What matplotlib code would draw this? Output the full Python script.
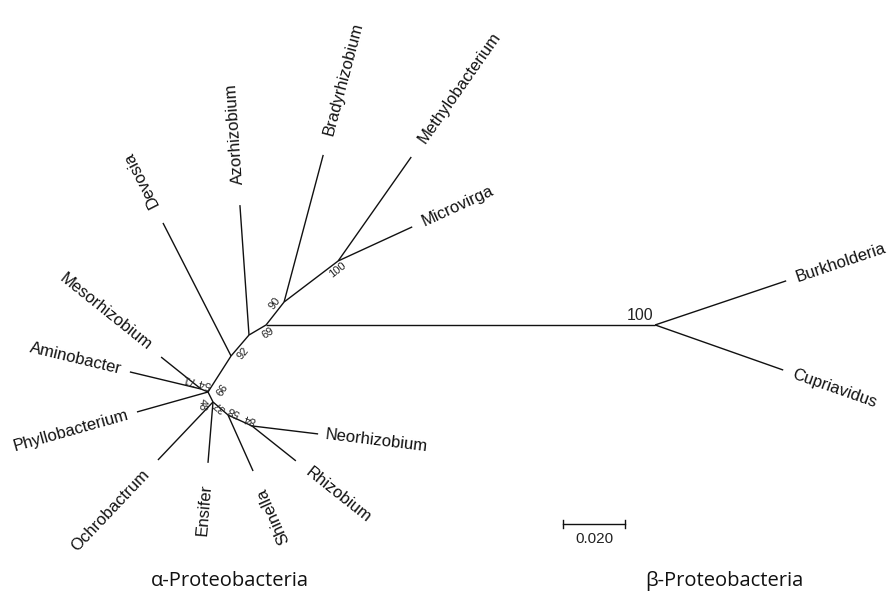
import numpy as np
import matplotlib
matplotlib.use("Agg")
import matplotlib.pyplot as plt

# ---------------- data: unrooted tree ----------------
# each branch: parent node, child node, length (substitutions/site), direction (deg)
parents = ["A", "MA", "MA", "A", "A", "N92", "N92", "NAz", "NAz", "N69", "Beta", "Beta",
           "N69", "N90", "N90", "N100", "N100", "A", "B", "B", "B", "C", "C", "D", "D"]
children = ["MA", "Mesorhizobium", "Aminobacter", "Phyllobacterium", "N92", "Devosia", "NAz",
            "Azorhizobium", "N69", "Beta", "Burkholderia", "Cupriavidus", "N90", "Bradyrhizobium",
            "N100", "Methylobacterium", "Microvirga", "B", "Ochrobactrum", "Ensifer", "C",
            "Shinella", "D", "Rhizobium", "Neorhizobium"]
lengths = [0.00245, 0.0165, 0.0236, 0.0238, 0.0138, 0.0482, 0.0089, 0.0420, 0.0064, 0.1255,
           0.0446, 0.0438, 0.0094, 0.0491, 0.0219, 0.0410, 0.0263, 0.0036, 0.0258, 0.0197,
           0.0064, 0.0198, 0.0085, 0.0181, 0.0215]
angles = [156.8, 141.3, 166.5, 195.7, 57.4, 117.1, 49.4, 94.0, 30.5, 0.0, 18.6, -19.4, 51.9,
          75.1, 37.2, 54.9, 24.7, -63.4, 226.5, 265.3, -40.9, -65.9, -24.6, -38.5, -6.9]

# tip labels drawn reversed (read toward the tip)
flipped_tips = ["Mesorhizobium", "Aminobacter", "Phyllobacterium", "Ochrobactrum",
                "Ensifer", "Shinella"]

# bootstrap support values: node, text
support_nodes = ["Beta", "N100", "N90", "N69", "N92", "A", "A", "B", "B", "C", "D"]
support_text = ["100", "100", "90", "69", "92", "99", "54 71", "48", "37", "58", "84"]

scale_value = 0.020
group_labels = ["α-Proteobacteria", "β-Proteobacteria"]

# ---------------- layout ----------------
PX = 3100.0                     # pixels per substitution unit
W, H = 890, 595
root_px = (208, 392)

# support label placement (pixel offsets, y down) and rotation
sup_off = [(-15, -9), (-1, 9), (-9, 1), (2, 8), (12, -3), (11, -3), (-10, -11),
           (-11, 2), (7, 4), (6, -4), (-2, -7)]
sup_rot = [0, 38, 53, 33, 50, 237, 165, 265, 139, 155, 160]
sup_size = [11.5, 8, 8, 8, 8, 8, 8, 8, 8, 8, 8]

pos = {"A": np.array([0.0, 0.0])}
for p, c, L, a in zip(parents, children, lengths, angles):
    r = np.deg2rad(a)
    pos[c] = pos[p] + L * np.array([np.cos(r), np.sin(r)])

fig = plt.figure(figsize=(W / 100, H / 100), dpi=100)
ax = fig.add_axes([0, 0, 1, 1])
ax.set_xlim(-root_px[0] / PX, (W - root_px[0]) / PX)
ax.set_ylim(-(H - root_px[1]) / PX, root_px[1] / PX)
ax.axis("off")

lw = 1.0
tipfont = dict(family=["Liberation Sans", "DejaVu Sans"], size=12, color="#111111")
for p, c, L, a in zip(parents, children, lengths, angles):
    x0, y0 = pos[p]
    x1, y1 = pos[c]
    ax.plot([x0, x1], [y0, y1], color="#111111", lw=lw, solid_capstyle="butt")
    if c not in set(parents):   # tip
        r = np.deg2rad(a)
        gap = (5 + 16 * abs(np.sin(r))) / PX
        tx, ty = x1 + gap * np.cos(r), y1 + gap * np.sin(r)
        if c in flipped_tips:
            ax.text(tx, ty, c, rotation=a - 180, rotation_mode="anchor",
                    ha="right", va="center", **tipfont)
        else:
            ax.text(tx, ty, c, rotation=a, rotation_mode="anchor",
                    ha="left", va="center", **tipfont)

for n, t, (dx, dy), rot, sz in zip(support_nodes, support_text, sup_off, sup_rot, sup_size):
    x, y = pos[n]
    ax.text(x + dx / PX, y - dy / PX, t, rotation=rot, rotation_mode="anchor",
            ha="center", va="center", fontsize=sz, color="#222222",
            family=["Liberation Sans", "DejaVu Sans"])

# scale bar
sb_x0 = (563 - root_px[0]) / PX
sb_y = -(524 - root_px[1]) / PX
ax.plot([sb_x0, sb_x0 + scale_value], [sb_y, sb_y], color="#111111", lw=lw)
tick = 4 / PX
for xx in (sb_x0, sb_x0 + scale_value):
    ax.plot([xx, xx], [sb_y - tick, sb_y + tick], color="#111111", lw=lw)
ax.text(sb_x0 + scale_value / 2, sb_y - 8 / PX, f"{scale_value:.3f}", ha="center", va="top",
        fontsize=11, color="#222222", family=["Liberation Sans", "DejaVu Sans"])

# group labels
for lab, xp in zip(group_labels, (230, 724)):
    ax.text((xp - root_px[0]) / PX, -(581 - root_px[1]) / PX, lab, ha="center", va="center",
            fontsize=14.5, color="#111111", family=["Open Sans", "DejaVu Sans"])

fig.savefig("out.png", dpi=100)
